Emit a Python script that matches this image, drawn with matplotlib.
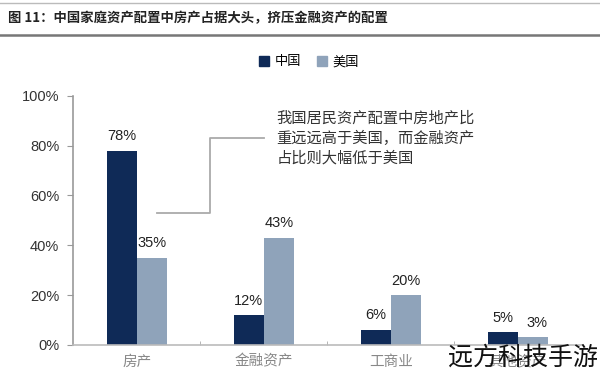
import matplotlib.pyplot as plt
import numpy as np
from matplotlib.lines import Line2D
from matplotlib.patches import Patch

plt.rcParams['font.family'] = ['Noto Sans CJK SC', 'DejaVu Sans']

categories = ['房产', '金融资产', '工商业', '其他资产']
china = [78, 12, 6, 5]
usa = [35, 43, 20, 3]
series_names = ['中国', '美国']
yticks = [0, 20, 40, 60, 80, 100]
title = '图 11：中国家庭资产配置中房产占据大头，挤压金融资产的配置'
note = '我国居民资产配置中房地产比\n重远远高于美国，而金融资产\n占比则大幅低于美国'

c_cn = '#0f2a57'
c_us = '#8fa3ba'

fig = plt.figure(figsize=(6, 3.79), dpi=100)
ax = fig.add_axes([0.122, 0.09, 0.847, 0.657])

x = np.arange(len(categories))
w = 0.235
ax.bar(x - w / 2, china, w, color=c_cn)
ax.bar(x + w / 2, usa, w, color=c_us)

for xi, v in zip(x, china):
    ax.text(xi - w / 2, v + 3, f'{v}%', ha='center', va='bottom', fontsize=10.5,
            family='Liberation Sans', color='#222222')
for xi, v in zip(x, usa):
    ax.text(xi + w / 2 + (0.03 if xi == 3 else 0), v + 3, f'{v}%', ha='center', va='bottom',
            fontsize=10.5, family='Liberation Sans', color='#222222')

ax.set_xlim(-0.5, len(categories) - 0.5)
ax.set_ylim(0, 100)
ax.set_yticks(yticks)
ax.set_yticklabels([f'{t}%' for t in yticks], family='Liberation Sans', fontsize=10.5, color='#333333')
ax.set_xticks(x)
ax.set_xticklabels(categories, fontsize=10.5, color='#888888')
ax.set_xticks(np.arange(len(categories) - 1) + 0.5, minor=True)
ax.tick_params(axis='x', which='major', length=0, pad=7)
ax.tick_params(axis='x', which='minor', length=3, color='#aaaaaa', direction='in')
ax.tick_params(axis='y', length=4, color='#999999', direction='out', pad=6)
for s in ['top', 'right']:
    ax.spines[s].set_visible(False)
ax.spines['left'].set_color('#999999')
ax.spines['bottom'].set_color('#bbbbbb')
ax.spines['left'].set_linewidth(1.2)
ax.spines['bottom'].set_linewidth(1.2)

# annotation bracket
ax.plot([0.16, 0.58, 0.58, 1.0], [53, 53, 83, 83], color='#aaaaaa', lw=1.3, clip_on=False)
ax.text(1.1, 83, note, ha='left', va='center', fontsize=11, color='#333333', linespacing=1.2)

# legend
handles = [Patch(color=c_cn), Patch(color=c_us)]
fig.legend(handles, series_names, loc='center', bbox_to_anchor=(0.515, 0.837), ncol=2,
           frameon=False, fontsize=9.5, handlelength=0.8, handleheight=0.8,
           handletextpad=0.4, columnspacing=1.2)

# title bar
fig.add_artist(Line2D([0.0, 1.0], [0.993, 0.993], color='#bbbbbb', lw=1))
fig.add_artist(Line2D([0.0, 1.0], [0.908, 0.908], color='#777777', lw=1.8))
fig.text(0.013, 0.952, title, ha='left', va='center', fontsize=9.6, fontweight='bold', color='#222222')

# watermark
fig.text(0.997, 0.055, '远方科技手游', ha='right', va='center', fontsize=18, color='#111111',
         fontweight='light')

fig.savefig('out.png', dpi=100)
